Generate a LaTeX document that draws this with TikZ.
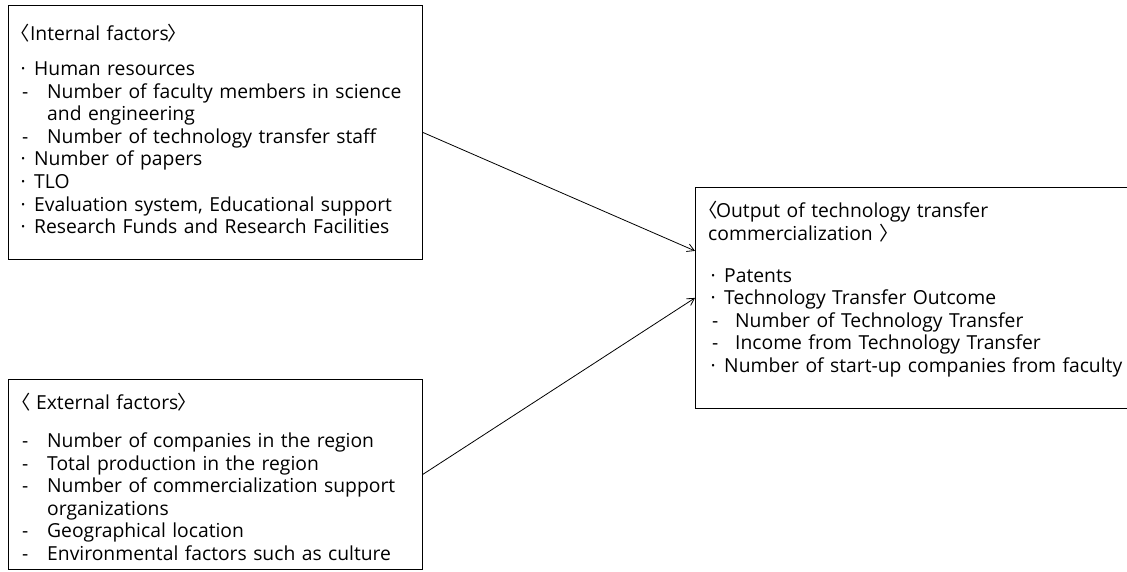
\documentclass[tikz,border=0pt]{standalone}
\usepackage{fontspec}
\setmainfont{Open Sans}
\newfontfamily\cjkf{Noto Sans CJK KR}
\usetikzlibrary{arrows.meta}
\newcommand\lbr{{\cjkf 〈}}
\newcommand\rbr{{\cjkf 〉}}
\newcommand\dotA{\makebox[12pt][l]{\hspace{-1.5pt}·}}
\newcommand\dashA{\makebox[25pt][l]{-}}
\newcommand\dashB{\makebox[23pt][l]{-}}
\tikzset{
  box/.style={draw=black, line width=0.8pt, inner sep=0pt, anchor=north west},
  txt/.style={anchor=base west, inner sep=0pt, align=left, text width=#1,
    font=\fontsize{19.3}{22.6}\selectfont},
  link/.style={draw=black, line width=0.8pt, -{Straight Barb[length=7pt,width=8pt]}}
}
\begin{document}
\begin{tikzpicture}[x=1pt,y=-1pt]
\useasboundingbox (0,0) rectangle (1127,571);
% boxes
\node[box, minimum width=414pt, minimum height=254pt] (inbox) at (8,5) {};
\node[box, minimum width=414pt, minimum height=190pt] (exbox) at (8,379) {};
\node[box, minimum width=440pt, minimum height=221pt] (outbox) at (695,187) {};
% texts
\node[txt=410pt] (intxt) at (22,40.5) {\hspace{-11.4pt}\lbr Internal factors\hspace{-1pt}\rbr\\[12.4pt]
\dotA Human resources\\
\dashA Number of faculty members in science\\
\hspace{25pt}and engineering\\
\dashA Number of technology transfer staff\\
\dotA Number of papers\\
\dotA TLO\\
\dotA Evaluation system, Educational support\\
\dotA Research Funds and Research Facilities};
\node[txt=410pt] (extxt) at (22,409.5) {\hspace{-10.4pt}\lbr\hspace{5pt}External factors\hspace{-1pt}\rbr\\[15.4pt]
\dashA Number of companies in the region\\
\dashA Total production in the region\\
\dashA Number of commercialization support\\
\hspace{25pt}organizations\\
\dashA Geographical location\\
\dashA Environmental factors such as culture};
\node[txt=430pt] (outtxt) at (712,217.5) {\hspace{-13.4pt}\lbr\hspace{-2pt}Output of technology transfer\\
\hspace{-4pt}commercialization \rbr\\[19.4pt]
\dotA Patents\\
\dotA Technology Transfer Outcome\\
\dashB Number of Technology Transfer\\
\dashB Income from Technology Transfer\\
\dotA Number of start-up companies from faculty};
% connectors
\draw[link] (inbox.east) -- ([yshift=47pt]outbox.west);
\draw[link] (exbox.east) -- (outbox.west);
\end{tikzpicture}
\end{document}
